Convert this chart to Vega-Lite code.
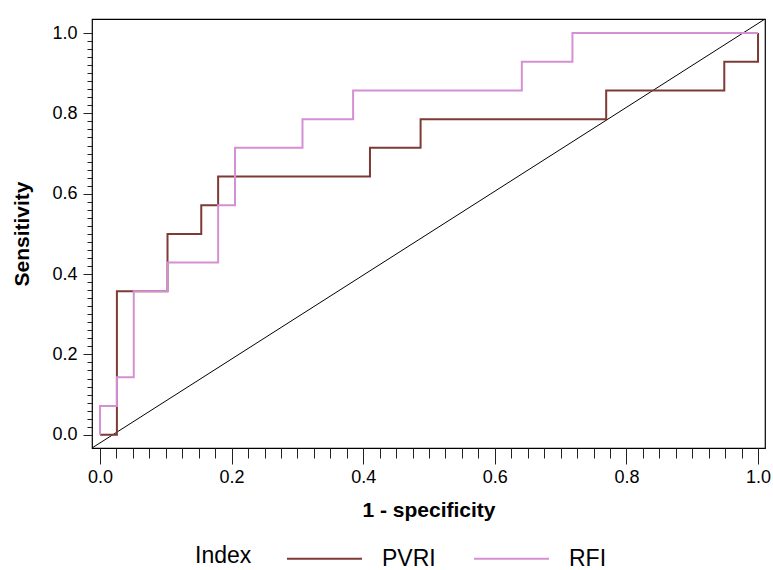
{
  "$schema": "https://vega.github.io/schema/vega-lite/v6.json",
  "autosize": {"type": "none"},
  "width": 673,
  "height": 429,
  "padding": {"left": 92, "top": 19, "right": 8, "bottom": 122},
  "background": "white",
  "config": {
    "view": {"stroke": "#000", "strokeWidth": 1.2},
    "font": "Liberation Sans",
    "axis": {"grid": false, "domain": false, "tickColor": "#222", "tickWidth": 1, "labelColor": "#000", "titleColor": "#000", "labelFont": "Liberation Sans", "titleFont": "Liberation Sans"},
    "legend": {"labelFont": "Liberation Sans", "titleFont": "Liberation Sans"}
  },
  "datasets": {
    "diag": [
      {"fpr": -0.0122, "tpr": -0.033},
      {"fpr": 1.0106, "tpr": 1.035}
    ],
    "roc": [
      {"Index": "PVRI", "o": 0, "fpr": 0, "tpr": 0},
      {"Index": "PVRI", "o": 1, "fpr": 0.025641, "tpr": 0.357143},
      {"Index": "PVRI", "o": 2, "fpr": 0.102564, "tpr": 0.5},
      {"Index": "PVRI", "o": 3, "fpr": 0.153846, "tpr": 0.571429},
      {"Index": "PVRI", "o": 4, "fpr": 0.179487, "tpr": 0.642857},
      {"Index": "PVRI", "o": 5, "fpr": 0.410256, "tpr": 0.714286},
      {"Index": "PVRI", "o": 6, "fpr": 0.487179, "tpr": 0.785714},
      {"Index": "PVRI", "o": 7, "fpr": 0.769231, "tpr": 0.857143},
      {"Index": "PVRI", "o": 8, "fpr": 0.948718, "tpr": 0.928571},
      {"Index": "PVRI", "o": 9, "fpr": 1, "tpr": 1},
      {"Index": "RFI", "o": 0, "fpr": 0, "tpr": 0},
      {"Index": "RFI", "o": 1, "fpr": 0, "tpr": 0.071429},
      {"Index": "RFI", "o": 2, "fpr": 0.025641, "tpr": 0.142857},
      {"Index": "RFI", "o": 3, "fpr": 0.051282, "tpr": 0.357143},
      {"Index": "RFI", "o": 4, "fpr": 0.102564, "tpr": 0.428571},
      {"Index": "RFI", "o": 5, "fpr": 0.179487, "tpr": 0.571429},
      {"Index": "RFI", "o": 6, "fpr": 0.205128, "tpr": 0.714286},
      {"Index": "RFI", "o": 7, "fpr": 0.307692, "tpr": 0.785714},
      {"Index": "RFI", "o": 8, "fpr": 0.384615, "tpr": 0.857143},
      {"Index": "RFI", "o": 9, "fpr": 0.641026, "tpr": 0.928571},
      {"Index": "RFI", "o": 10, "fpr": 0.717949, "tpr": 1},
      {"Index": "RFI", "o": 11, "fpr": 1, "tpr": 1}
    ]
  },
  "layer": [
    {
      "data": {"name": "diag"},
      "mark": {"type": "line", "color": "#000", "strokeWidth": 1, "clip": true},
      "encoding": {
        "x": {"field": "fpr", "type": "quantitative", "scale": {"domain": [-0.0122, 1.0106], "nice": false, "zero": false},
          "axis": {"orient": "bottom", "values": [0,0.025,0.05,0.075,0.1,0.125,0.15,0.175,0.2,0.225,0.25,0.275,0.3,0.325,0.35,0.375,0.4,0.425,0.45,0.475,0.5,0.525,0.55,0.575,0.6,0.625,0.65,0.675,0.7,0.725,0.75,0.775,0.8,0.825,0.85,0.875,0.9,0.925,0.95,0.975,1], "labels": false, "tickSize": 10, "title": null}},
        "y": {"field": "tpr", "type": "quantitative", "scale": {"domain": [-0.033, 1.035], "nice": false, "zero": false},
          "axis": {"orient": "left", "values": [0,0.02,0.04,0.06,0.08,0.1,0.12,0.14,0.16,0.18,0.2,0.22,0.24,0.26,0.28,0.3,0.32,0.34,0.36,0.38,0.4,0.42,0.44,0.46,0.48,0.5,0.52,0.54,0.56,0.58,0.6,0.62,0.64,0.66,0.68,0.7,0.72,0.74,0.76,0.78,0.8,0.82,0.84,0.86,0.88,0.9,0.92,0.94,0.96,0.98,1], "labels": false, "tickSize": 5, "title": null}}
      }
    },
    {
      "data": {"name": "roc"},
      "mark": {"type": "line", "interpolate": "step-after", "strokeWidth": 2, "clip": true},
      "encoding": {
        "x": {"field": "fpr", "type": "quantitative",
          "axis": {"orient": "bottom", "values": [0,0.2,0.4,0.6,0.8,1], "format": ".1f", "tickSize": 16, "labelFontSize": 18, "labelPadding": 4, "title": "1 - specificity", "titleFontSize": 21, "titleFontWeight": "bold", "titlePadding": 13}},
        "y": {"field": "tpr", "type": "quantitative",
          "axis": {"orient": "left", "values": [0,0.2,0.4,0.6,0.8,1], "format": ".1f", "tickSize": 9, "labelFontSize": 18, "labelPadding": 6, "title": "Sensitivity", "titleFontSize": 21, "titleFontWeight": "bold", "titlePadding": 19}},
        "order": {"field": "o", "type": "quantitative"},
        "color": {"field": "Index", "type": "nominal",
          "scale": {"domain": ["PVRI", "RFI"], "range": ["#7E3B35", "#D590D3"]},
          "legend": {"orient": "none", "legendX": 103, "legendY": 501, "direction": "horizontal", "columns": 2, "title": "Index", "titleOrient": "left", "titleFontSize": 23, "titleFontWeight": "normal", "titleColor": "#000", "titlePadding": 34, "titleAnchor": "middle", "titleBaseline": "top", "labelFontSize": 23, "labelColor": "#000", "labelOffset": 19, "columnPadding": 34, "symbolType": "stroke", "symbolSize": 5625, "symbolStrokeWidth": 2}
        }
      }
    }
  ],
  "resolve": {"axis": {"x": "independent", "y": "independent"}}
}
